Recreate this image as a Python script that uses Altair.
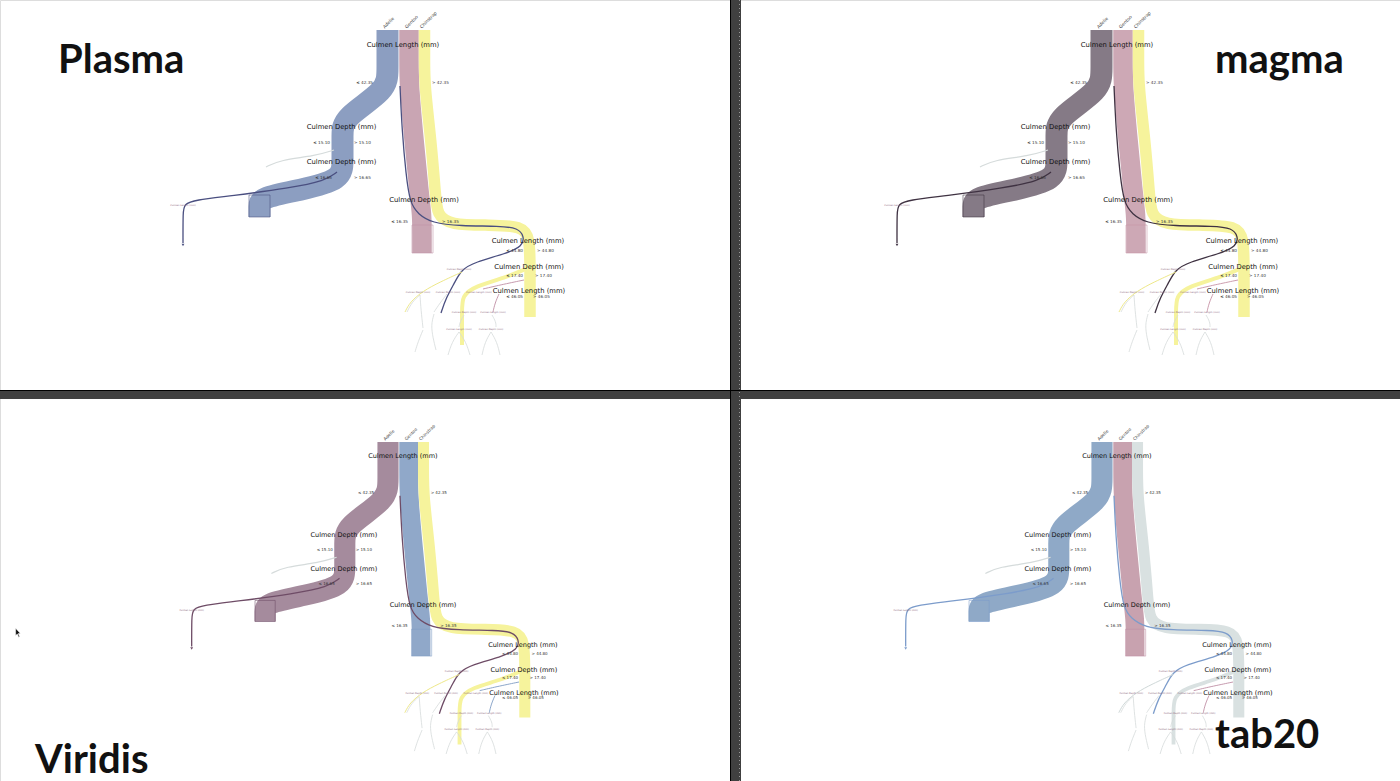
import altair as alt
import pandas as pd

W, H = 1400, 781

# ---- panels -------------------------------------------------------------
PANELS = ["Plasma", "magma", "Viridis", "tab20"]
PANEL_DX = [0, 714, 0, 714]
PANEL_DY = [0, 0, 412, 412]
PANEL_SCALE = [1.0, 1.0, 0.96, 0.96]
TITLE_X = [58, 1215, 35, 1215]
TITLE_Y = [73, 73, 773, 748]

SPECIES = ["Adelie", "Gentoo", "Chinstrap"]
BAND_COLORS = {
    "Plasma": ["#8c9ec1", "#c9a5b3", "#f6f39c"],
    "magma": ["#857a86", "#cda8b5", "#f6f39c"],
    "Viridis": ["#a58b9d", "#90a8c9", "#f6f39c"],
    "tab20": ["#8fa9c7", "#c8a2af", "#d9e1e1"],
}
# adelie-thin, gentoo-thin, chinstrap-thin, neutral-thin
THIN_COLORS = {
    "Plasma": ["#4a4f80", "#c08fa5", "#eee889", "#d5dbdb"],
    "magma": ["#3f3242", "#c793a6", "#eee889", "#d5dbdb"],
    "Viridis": ["#6e4c66", "#7f9cc4", "#eee889", "#d5dbdb"],
    "tab20": ["#7c9ccb", "#c08fa5", "#cfd8d8", "#d5dbdb"],
}

# ---- tree flows (panel-local coordinates) -------------------------------
ADELIE_BAND_X = [387.5, 387.5, 387.5, 342.5, 342.5, 342.5, 342.5, 300, 259.5, 259.5, 259.5]
ADELIE_BAND_Y = [30, 70, 90, 118, 135, 160, 180, 190, 198, 206, 217]
GENTOO_BAND_X = [409, 409, 409, 414, 419, 422, 422, 422]
GENTOO_BAND_Y = [30, 60, 85, 140, 192, 215, 235, 253]
CHIN_BAND_X = [424.5, 424.5, 424.5, 431, 435.5, 437, 450, 490, 522, 530, 530, 530]
CHIN_BAND_Y = [30, 60, 85, 140, 195, 215, 225, 225, 226, 238, 270, 317]
CHIN_SIDE_X = [528, 505, 475, 462, 462, 462]
CHIN_SIDE_Y = [268, 278, 286, 296, 310, 345]
BAND_WIDTHS = [22, 19.5, 11.5, 4]
BAND_SPECIES = [0, 1, 2, 2]
BANDS_X = [ADELIE_BAND_X, GENTOO_BAND_X, CHIN_BAND_X, CHIN_SIDE_X]
BANDS_Y = [ADELIE_BAND_Y, GENTOO_BAND_Y, CHIN_BAND_Y, CHIN_SIDE_Y]

# thin paths
THIN_FAR_X = [337, 325, 290, 230, 195, 184, 183, 183]
THIN_FAR_Y = [172, 181, 188, 196, 200, 204, 212, 243]
THIN_LEAF_X = [334, 315, 280, 266]
THIN_LEAF_Y = [150, 156, 160, 167]
THIN_RIGHT_X = [400, 402, 406, 410, 418, 432, 460, 500, 518, 524, 523, 505, 475, 461, 455, 446, 441]
THIN_RIGHT_Y = [86, 130, 175, 203, 214, 223, 226, 226, 228, 236, 246, 254, 262, 270, 282, 298, 313]
LOW_Y1_X = [462, 440, 423, 410, 405]
LOW_Y1_Y = [272, 282, 291, 302, 312]
LOW_G1_X = [524, 500, 483]
LOW_G1_Y = [280, 285, 289]
LOW_G2_X = [499, 495, 493]
LOW_G2_Y = [294, 303, 312]
LOW_N1_X = [420, 421, 423]
LOW_N1_Y = [295, 310, 328]
LOW_N2_X = [447, 440, 434]
LOW_N2_Y = [294, 303, 312]
LOW_N3_X = [464, 460, 459]
LOW_N3_Y = [315, 322, 327]
LOW_N4_X = [492, 496, 496]
LOW_N4_Y = [315, 322, 327]
LOW_N5_X = [459, 452, 448]
LOW_N5_Y = [332, 342, 355]
LOW_N6_X = [459, 466, 470]
LOW_N6_Y = [332, 342, 355]
LOW_N7_X = [491, 485, 482]
LOW_N7_Y = [332, 342, 355]
LOW_N8_X = [491, 497, 500]
LOW_N8_Y = [332, 342, 355]
LOW_N9_X = [423, 418, 415]
LOW_N9_Y = [330, 342, 352]
LOW_N10_X = [420, 412, 407]
LOW_N10_Y = [295, 302, 312]
LOW_N11_X = [434, 431, 433, 436]
LOW_N11_Y = [314, 325, 338, 350]
THIN_KIND = [0, 3, 0, 2, 1, 1, 3, 3, 3, 3, 3, 3, 3, 3, 3, 3, 3]
THIN_WIDTH = [1.3, 1.2, 1.3, 1.0, 0.9, 0.9, 0.8, 0.8, 0.8, 0.8, 0.8, 0.8, 0.8, 0.8, 0.8, 0.8, 0.8]
THIN_X = [THIN_FAR_X, THIN_LEAF_X, THIN_RIGHT_X, LOW_Y1_X, LOW_G1_X, LOW_G2_X, LOW_N1_X,
          LOW_N2_X, LOW_N3_X, LOW_N4_X, LOW_N5_X, LOW_N6_X, LOW_N7_X, LOW_N8_X, LOW_N9_X,
          LOW_N10_X, LOW_N11_X]
THIN_Y = [THIN_FAR_Y, THIN_LEAF_Y, THIN_RIGHT_Y, LOW_Y1_Y, LOW_G1_Y, LOW_G2_Y, LOW_N1_Y,
          LOW_N2_Y, LOW_N3_Y, LOW_N4_Y, LOW_N5_Y, LOW_N6_Y, LOW_N7_Y, LOW_N8_Y, LOW_N9_Y,
          LOW_N10_Y, LOW_N11_Y]

# leaf boxes
LEAF_SPECIES = [0, 1]
LEAF_X1 = [249, 412]
LEAF_X2 = [270, 433]
LEAF_Y1 = [195, 225]
LEAF_Y2 = [217, 253]

# ---- texts ----------------------------------------------------------------
NODE_LABELS = ["Culmen Length (mm)", "Culmen Depth (mm)", "Culmen Depth (mm)", "Culmen Depth (mm)",
               "Culmen Length (mm)", "Culmen Depth (mm)", "Culmen Length (mm)"]
NODE_X = [403, 341.5, 341.5, 424, 528, 529, 529]
NODE_Y = [45, 127, 162, 199.5, 241, 267, 291]
SPLIT_VALUES = ["42.35", "15.10", "16.65", "16.35", "44.80", "17.40", "46.05"]
SPLIT_LEFT_X = [373, 330, 332, 408, 523, 523, 523]
SPLIT_RIGHT_X = [432, 354, 354, 442, 537, 535, 533]
SPLIT_Y = [83, 143, 178, 222, 251, 275.5, 297]
SPECIES_LABEL_X = [384, 406, 421]
SPECIES_LABEL_Y = [28, 28, 28]
TINY_LABELS = ["Culmen Length (mm)", "Culmen Depth (mm)", "Culmen Length (mm)", "Culmen Depth (mm)",
               "Culmen Depth (mm)", "Culmen Depth (mm)", "Culmen Length (mm)", "Culmen Length (mm)",
               "Culmen Depth (mm)"]
TINY_X = [183, 459, 479, 418, 448, 464, 493, 459, 491]
TINY_Y = [205, 269, 292, 292, 292, 312, 312, 329, 329]


def tf(p, x, y):
    s = PANEL_SCALE[p]
    return PANEL_DX[p] + 400 + s * (x - 400), PANEL_DY[p] + 30 + s * (y - 30)


band_rows, thin_rows, leaf_rows, text_rows, sp_rows = [], [], [], [], []
for p, name in enumerate(PANELS):
    s = PANEL_SCALE[p]
    for b in range(len(BANDS_X)):
        for i, (x, y) in enumerate(zip(BANDS_X[b], BANDS_Y[b])):
            X, Y = tf(p, x, y)
            band_rows.append(dict(key=f"{p}-b{b}", i=i, x=X, y=Y, w=BAND_WIDTHS[b] * s,
                                  c=BAND_COLORS[name][BAND_SPECIES[b]]))
    for t in range(len(THIN_X)):
        for i, (x, y) in enumerate(zip(THIN_X[t], THIN_Y[t])):
            X, Y = tf(p, x, y)
            thin_rows.append(dict(key=f"{p}-t{t:02d}", i=i, x=X, y=Y, w=THIN_WIDTH[t],
                                  c=THIN_COLORS[name][THIN_KIND[t]]))
    for k in range(len(LEAF_X1)):
        X1, Y1 = tf(p, LEAF_X1[k], LEAF_Y1[k])
        X2, Y2 = tf(p, LEAF_X2[k], LEAF_Y2[k])
        leaf_rows.append(dict(x=X1, x2=X2, y=Y1, y2=Y2, c=THIN_COLORS[name][LEAF_SPECIES[k]]))
    for k, lab in enumerate(NODE_LABELS):
        X, Y = tf(p, NODE_X[k], NODE_Y[k])
        text_rows.append(dict(t=lab, x=X, y=Y, fs=6.8 * s, al="center", c="#111111"))
        X, Y = tf(p, SPLIT_LEFT_X[k], SPLIT_Y[k])
        text_rows.append(dict(t="\u2264 " + SPLIT_VALUES[k], x=X, y=Y, fs=4.2 * s, al="right", c="#333333"))
        X, Y = tf(p, SPLIT_RIGHT_X[k], SPLIT_Y[k])
        text_rows.append(dict(t="> " + SPLIT_VALUES[k], x=X, y=Y, fs=4.2 * s, al="left", c="#333333"))
    for k, lab in enumerate(TINY_LABELS):
        X, Y = tf(p, TINY_X[k], TINY_Y[k])
        text_rows.append(dict(t=lab, x=X, y=Y, fs=2.4 * s, al="center", c="#8e6a7c"))
    for k, lab in enumerate(SPECIES):
        X, Y = tf(p, SPECIES_LABEL_X[k], SPECIES_LABEL_Y[k])
        sp_rows.append(dict(t=lab, x=X, y=Y, fs=4.5 * s))

bands = pd.DataFrame(band_rows)
thins = pd.DataFrame(thin_rows)
leaves = pd.DataFrame(leaf_rows)
texts = pd.DataFrame(text_rows)
sps = pd.DataFrame(sp_rows)
titles = pd.DataFrame(dict(t=PANELS, x=TITLE_X, y=TITLE_Y))

xs = alt.Scale(domain=[0, W], nice=False, zero=False)
ys = alt.Scale(domain=[0, H], nice=False, zero=False, reverse=True)
X = lambda f="x": alt.X(f"{f}:Q", scale=xs, axis=None)
Y = lambda f="y": alt.Y(f"{f}:Q", scale=ys, axis=None)

band_layer = alt.Chart(bands).mark_line(interpolate="basis", strokeCap="butt").encode(
    x=X(), y=Y(), detail="key:N", order="i:Q",
    strokeWidth=alt.StrokeWidth("w:Q", scale=None),
    color=alt.Color("c:N", scale=None))

leaf_layer = alt.Chart(leaves).mark_rect(fillOpacity=0, strokeWidth=0.8, strokeOpacity=0.7).encode(
    x=X(), x2="x2:Q", y=Y(), y2="y2:Q", stroke=alt.Stroke("c:N", scale=None))

thin_layer = alt.Chart(thins).mark_line(interpolate="basis").encode(
    x=X(), y=Y(), detail="key:N", order="i:Q",
    strokeWidth=alt.StrokeWidth("w:Q", scale=None),
    color=alt.Color("c:N", scale=None))

arrow_rows = []
for p in range(4):
    ax, ay = tf(p, 183, 245)
    arrow_rows.append(dict(x=ax, y=ay, c=THIN_COLORS[PANELS[p]][0]))
arrow_layer = alt.Chart(pd.DataFrame(arrow_rows)).mark_point(
    shape="triangle-down", filled=True, size=8, opacity=1).encode(
    x=X(), y=Y(), color=alt.Color("c:N", scale=None))


def text_layer_for(al):
    return alt.Chart(texts[texts["al"] == al]).mark_text(
        font="DejaVu Sans", baseline="middle", align=al).encode(
        x=X(), y=Y(), text="t:N", size=alt.Size("fs:Q", scale=None),
        color=alt.Color("c:N", scale=None))


sp_layer = alt.Chart(sps).mark_text(font="DejaVu Sans", angle=315, align="left",
                                    baseline="middle", color="#444444").encode(
    x=X(), y=Y(), text="t:N", size=alt.Size("fs:Q", scale=None))

title_layer = alt.Chart(titles).mark_text(font="Lato", fontWeight="bold", fontSize=40,
                                          align="left", baseline="alphabetic", color="#111111").encode(
    x=X(), y=Y(), text="t:N")

# window separators
SEP_X1 = [0, 730]
SEP_X2 = [W, 741]
SEP_Y1 = [390, 0]
SEP_Y2 = [399, H]
seps = pd.DataFrame(dict(x=SEP_X1, x2=SEP_X2, y=SEP_Y1, y2=SEP_Y2))
sep_layer = alt.Chart(seps).mark_rect(color="#404040").encode(x=X(), x2="x2:Q", y=Y(), y2="y2:Q")
edge_h = alt.Chart(pd.DataFrame(dict(x=[0], x2=[W], y=[390.5]))).mark_rule(color="#000000", strokeWidth=1).encode(
    x=X(), x2="x2:Q", y=Y())
edge_v = alt.Chart(pd.DataFrame(dict(x=[730.5], y=[0], y2=[H]))).mark_rule(color="#000000", strokeWidth=1).encode(
    x=X(), y=Y(), y2="y2:Q")
dots_v = alt.Chart(pd.DataFrame(dict(x=[739.5], y=[0], y2=[H]))).mark_rule(
    color="#9a9a9a", strokeWidth=1, strokeDash=[1, 3]).encode(x=X(), y=Y(), y2="y2:Q")

cursor = alt.Chart(pd.DataFrame(dict(x=[18], y=[633]))).mark_point(
    shape="M-0.5,-1L-0.5,0.55L-0.15,0.2L0.15,0.9L0.35,0.8L0.05,0.12L0.5,0.12Z",
    filled=True, size=90, color="#111111", opacity=1, stroke="#ffffff", strokeWidth=0.5).encode(
    x=X(), y=Y())

chart = alt.layer(
    band_layer, leaf_layer, thin_layer, arrow_layer,
    text_layer_for("center"), text_layer_for("left"), text_layer_for("right"), sp_layer,
    title_layer, sep_layer, edge_h, edge_v, dots_v, cursor
).properties(width=W, height=H, padding=0, autosize=alt.AutoSizeParams(type="none")
).configure_view(stroke=None).configure(background="#ffffff")

chart.save("out.html", embed_options={"renderer": "svg", "actions": False})
